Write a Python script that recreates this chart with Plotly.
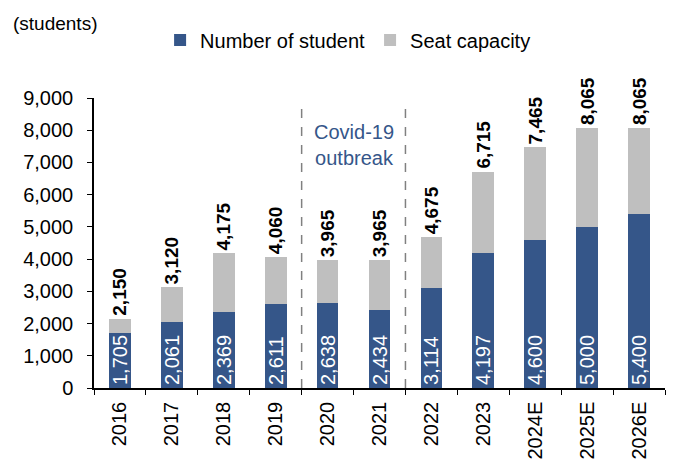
import plotly.graph_objects as go

# Data
years = ["2016", "2017", "2018", "2019", "2020", "2021", "2022", "2023", "2024E", "2025E", "2026E"]
students = [1705, 2061, 2369, 2611, 2638, 2434, 3114, 4197, 4600, 5000, 5400]
capacity = [2150, 3120, 4175, 4060, 3965, 3965, 4675, 6715, 7465, 8065, 8065]

blue = "#355689"
grey = "#BFBFBF"
font_name = "Liberation Sans, Arial, sans-serif"

# grey part sits on top of the blue, reaching the seat capacity
spare = [c - s for c, s in zip(capacity, students)]

fig = go.Figure()
fig.add_trace(go.Bar(
    x=years, y=students, name="Number of student",
    marker=dict(color=blue, line=dict(width=0)),
    text=[f"{v:,}" for v in students],
    textposition="inside", insidetextanchor="start", textangle=-90,
    constraintext="none",
    textfont=dict(color="white", size=20, family=font_name),
))
fig.add_trace(go.Bar(
    x=years, y=spare, name="Seat capacity",
    marker=dict(color=grey, line=dict(width=0)),
    text=[f"<b>{v:,}</b>" for v in capacity],
    textposition="outside", textangle=-90, cliponaxis=False,
    constraintext="none",
    textfont=dict(color="black", size=19, family=font_name),
))

# dashed lines around the Covid years
for xpos in [3.5, 5.5]:
    fig.add_shape(type="line", xref="x", yref="y", x0=xpos, x1=xpos, y0=0, y1=8850,
                  line=dict(color="#808080", width=1.5, dash="dash"))

fig.add_annotation(x=4.5, y=7550, xref="x", yref="y", text="Covid-19<br>outbreak",
                   showarrow=False, font=dict(color=blue, size=20, family=font_name))
fig.add_annotation(x=-0.145, y=1.30, xref="paper", yref="paper", xanchor="left", yanchor="top",
                   text="(students)", showarrow=False,
                   font=dict(color="black", size=19, family=font_name))

# the page body adds an 8px offset, so margins are shifted up/left by 8
fig.update_layout(
    width=681, height=461,
    margin=dict(l=86, r=24, t=88, b=81),
    barmode="stack", bargap=0.58,
    plot_bgcolor="white", paper_bgcolor="white",
    font=dict(family=font_name, size=20, color="black"),
    showlegend=True,
    legend=dict(orientation="h", x=0.445, xanchor="center", y=1.20, yanchor="middle",
                font=dict(size=20), traceorder="normal"),
    xaxis=dict(showline=True, linecolor="black", linewidth=1.5, ticks="outside",
               tickson="boundaries", ticklen=5, tickcolor="black", tickangle=-90,
               tickfont=dict(size=20), automargin=False, ticklabelstandoff=4),
    yaxis=dict(range=[0, 9000], dtick=1000, tickformat=",", showgrid=False,
               showline=True, linecolor="black", linewidth=1.5, ticks="outside",
               ticklen=5, tickcolor="black", zeroline=False, tickfont=dict(size=20),
               automargin=False, ticklabelstandoff=10),
)

fig.write_html("out.html")
